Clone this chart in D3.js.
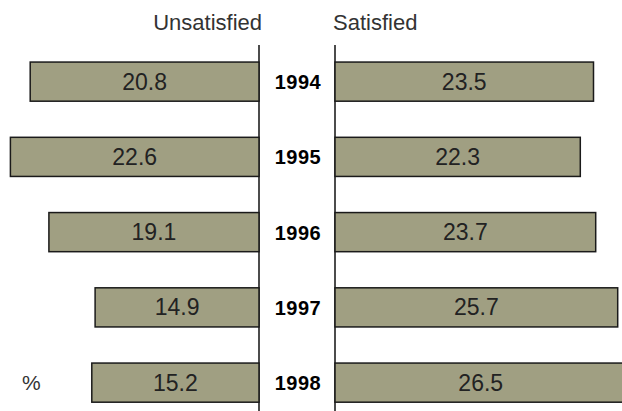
<!DOCTYPE html>
<html>
<head>
<meta charset="utf-8">
<script src="https://cdn.jsdelivr.net/npm/d3@7"></script>
<style>
  body { margin: 0; background: #fff; }
  svg { display: block; }
</style>
</head>
<body>
<div id="chart"></div>
<script>
const width = 622;
const height = 411;

const years = ["1994", "1995", "1996", "1997", "1998"];
const unsatisfied = [20.8, 22.6, 19.1, 14.9, 15.2];
const satisfied = [23.5, 22.3, 23.7, 25.7, 26.5];

const leftAxis = 259;
const rightAxis = 335;
const pxPerUnit = 11;

// left bars grow to the left, right bars grow to the right
const xLeft = d3.scaleLinear()
    .domain([0, 30])
    .range([leftAxis, leftAxis - 30 * pxPerUnit]);

const xRight = d3.scaleLinear()
    .domain([0, 30])
    .range([rightAxis, rightAxis + 30 * pxPerUnit]);

const step = 75.25;
const y = d3.scaleBand()
    .domain(years)
    .range([44, 44 + years.length * step])
    .paddingInner(0.48)
    .paddingOuter(0.24);

const svg = d3.select("#chart")
    .append("svg")
    .attr("width", width)
    .attr("height", height);

const fill = "#a09f82";
const font = "Liberation Sans, Arial, sans-serif";

// vertical axis lines
[leftAxis, rightAxis].forEach(x => {
  svg.append("line")
      .attr("x1", x).attr("x2", x)
      .attr("y1", 45).attr("y2", height)
      .attr("stroke", "#111")
      .attr("stroke-width", 1.5);
});

const rows = years.map((yr, i) => ({year: yr, u: unsatisfied[i], s: satisfied[i]}));

// unsatisfied bars
svg.selectAll(".bar-u")
    .data(rows)
    .enter()
    .append("rect")
    .attr("class", "bar-u")
    .attr("x", d => xLeft(d.u))
    .attr("y", d => y(d.year))
    .attr("width", d => xLeft(0) - xLeft(d.u))
    .attr("height", y.bandwidth())
    .attr("fill", fill)
    .attr("stroke", "#1a1a1a")
    .attr("stroke-width", 1.5);

// satisfied bars
svg.selectAll(".bar-s")
    .data(rows)
    .enter()
    .append("rect")
    .attr("class", "bar-s")
    .attr("x", xRight(0))
    .attr("y", d => y(d.year))
    .attr("width", d => xRight(d.s) - xRight(0))
    .attr("height", y.bandwidth())
    .attr("fill", fill)
    .attr("stroke", "#1a1a1a")
    .attr("stroke-width", 1.5);

// value labels
svg.selectAll(".lab-u")
    .data(rows)
    .enter()
    .append("text")
    .attr("x", d => (xLeft(d.u) + xLeft(0)) / 2)
    .attr("y", d => y(d.year) + y.bandwidth() / 2 + 8)
    .attr("text-anchor", "middle")
    .attr("font-family", font)
    .attr("font-size", 23)
    .attr("fill", "#222")
    .text(d => d.u.toFixed(1));

svg.selectAll(".lab-s")
    .data(rows)
    .enter()
    .append("text")
    .attr("x", d => (xRight(d.s) + xRight(0)) / 2)
    .attr("y", d => y(d.year) + y.bandwidth() / 2 + 8)
    .attr("text-anchor", "middle")
    .attr("font-family", font)
    .attr("font-size", 23)
    .attr("fill", "#222")
    .text(d => d.s.toFixed(1));

// year labels
svg.selectAll(".year")
    .data(rows)
    .enter()
    .append("text")
    .attr("x", (leftAxis + rightAxis) / 2 + 1)
    .attr("y", d => y(d.year) + y.bandwidth() / 2 + 7.5)
    .attr("text-anchor", "middle")
    .attr("font-family", font)
    .attr("font-weight", "bold")
    .attr("font-size", 20)
    .attr("letter-spacing", 0.5)
    .attr("fill", "#000")
    .text(d => d.year);

// headers
svg.append("text")
    .attr("x", 262).attr("y", 30)
    .attr("text-anchor", "end")
    .attr("font-family", font)
    .attr("font-size", 22)
    .attr("fill", "#333")
    .text("Unsatisfied");

svg.append("text")
    .attr("x", 333).attr("y", 30)
    .attr("font-family", font)
    .attr("font-size", 22)
    .attr("fill", "#333")
    .text("Satisfied");

svg.append("text")
    .attr("x", 22).attr("y", y("1998") + y.bandwidth() / 2 + 7.5)
    .attr("font-family", font)
    .attr("font-size", 21)
    .attr("fill", "#333")
    .text("%");
</script>
</body>
</html>
